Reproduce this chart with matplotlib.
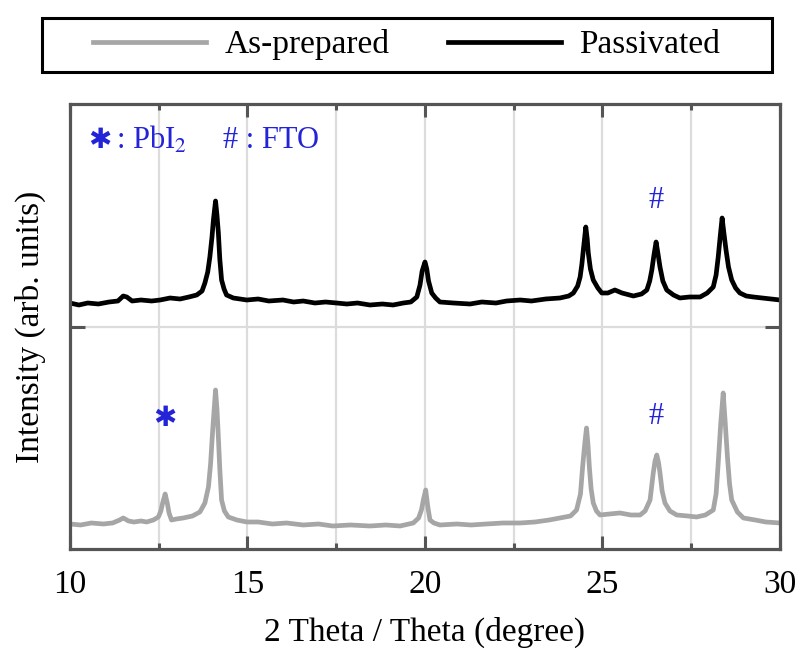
import matplotlib
matplotlib.use('Agg')
import matplotlib.pyplot as plt
from matplotlib.patches import Rectangle

plt.rcParams['font.family'] = ['Liberation Serif', 'DejaVu Serif']
plt.rcParams['mathtext.fontset'] = 'stix'

# passivated pattern (arb. units, before offset)
pass_2theta = [10.00, 10.25, 10.50, 10.80, 11.10, 11.35, 11.50, 11.60, 11.75, 12.00,
               12.30, 12.54, 12.82, 13.10, 13.35, 13.57, 13.72, 13.80, 13.88, 13.94,
               14.00, 14.04, 14.10, 14.14, 14.18, 14.22, 14.27, 14.34, 14.41, 14.60,
               14.98, 15.30, 15.60, 16.00, 16.30, 16.57, 16.90, 17.20, 17.51, 17.80,
               18.10, 18.45, 18.80, 19.10, 19.39, 19.60, 19.77, 19.86, 19.92, 20.00,
               20.05, 20.10, 20.19, 20.30, 20.42, 20.80, 21.27, 21.60, 22.00, 22.30,
               22.68, 23.00, 23.40, 23.80, 24.05, 24.18, 24.30, 24.37, 24.42, 24.46,
               24.53, 24.57, 24.60, 24.66, 24.74, 24.87, 24.98, 25.15, 25.35, 25.55,
               25.87, 26.10, 26.25, 26.33, 26.39, 26.45, 26.51, 26.56, 26.62, 26.70,
               26.81, 27.00, 27.18, 27.45, 27.75, 27.95, 28.12, 28.20, 28.26, 28.32,
               28.37, 28.42, 28.48, 28.55, 28.64, 28.75, 28.87, 29.05, 29.25, 29.50,
               29.75, 30.00]
pass_int = [24, 22, 24, 23, 25, 26, 31, 30, 26, 27,
            26, 27, 29, 28, 30, 32, 36, 44, 55, 70,
            90, 107, 126, 112, 94, 68, 47, 38, 32, 29,
            27, 28, 26, 27, 25, 26, 24, 25, 24, 23,
            24, 22, 23, 22, 24, 25, 30, 42, 56, 65,
            58, 46, 34, 29, 25, 24, 23, 25, 24, 26,
            27, 26, 28, 29, 31, 34, 41, 50, 63, 77,
            100, 88, 74, 58, 47, 39, 34, 34, 37, 34,
            31, 33, 37, 46, 57, 72, 85, 74, 60, 46,
            37, 32, 29, 30, 30, 34, 40, 52, 70, 92,
            109, 94, 77, 60, 47, 39, 34, 31, 30, 29,
            28, 27]

# as-prepared pattern
asp_2theta = [10.00, 10.30, 10.60, 10.94, 11.20, 11.40, 11.50, 11.65, 11.80, 12.00,
              12.16, 12.35, 12.49, 12.56, 12.61, 12.68, 12.74, 12.79, 12.86, 13.00,
              13.19, 13.45, 13.66, 13.80, 13.90, 13.96, 14.02, 14.10, 14.14, 14.17,
              14.22, 14.27, 14.35, 14.46, 14.70, 14.98, 15.30, 15.70, 16.10, 16.57,
              17.00, 17.40, 17.90, 18.45, 18.90, 19.30, 19.67, 19.82, 19.90, 19.96,
              20.02, 20.08, 20.14, 20.25, 20.42, 20.90, 21.30, 21.73, 22.20, 22.68,
              23.10, 23.50, 23.80, 24.10, 24.27, 24.38, 24.44, 24.50, 24.55, 24.59,
              24.63, 24.68, 24.74, 24.83, 24.93, 25.20, 25.49, 25.80, 26.06, 26.20,
              26.34, 26.43, 26.48, 26.53, 26.58, 26.62, 26.68, 26.76, 26.90, 27.09,
              27.40, 27.65, 27.90, 28.12, 28.20, 28.26, 28.33, 28.40, 28.46, 28.52,
              28.58, 28.64, 28.80, 28.97, 29.30, 29.60, 30.00]
asp_int = [25, 24, 26, 25, 26, 29, 31, 28, 27, 28,
           27, 29, 32, 38, 46, 55, 46, 36, 29, 30,
           31, 33, 37, 46, 62, 85, 119, 159, 140, 119,
           80, 49, 38, 32, 29, 27, 27, 25, 26, 24,
           25, 23, 24, 23, 24, 23, 26, 31, 39, 50,
           59, 42, 29, 26, 24, 25, 24, 25, 26, 26,
           27, 29, 31, 33, 39, 55, 82, 105, 121, 105,
           82, 60, 46, 38, 34, 35, 36, 34, 34, 38,
           49, 76, 88, 94, 86, 76, 58, 46, 38, 34,
           33, 32, 34, 39, 55, 86, 125, 156, 125, 92,
           65, 49, 37, 31, 29, 27, 26]

offset = 222
y_max = 445

fig = plt.figure(figsize=(7.99, 6.48), dpi=100)
ax = fig.add_axes([0.0876, 0.1528, 0.8886, 0.6867])

ax.plot(asp_2theta, asp_int, color='#a6a6a6', lw=3.4, label='As-prepared')
ax.plot(pass_2theta, [v + offset for v in pass_int], color='black', lw=3.4,
        label='Passivated')

ax.set_xlim(10, 30)
ax.set_ylim(0, y_max)
ax.set_xticks([10, 15, 20, 25, 30])
ax.set_xticks([12.5, 17.5, 22.5, 27.5], minor=True)
ax.set_yticks([offset])
ax.set_yticklabels([])
for xv in [12.5, 15, 17.5, 20, 22.5, 25, 27.5]:
    ax.axvline(xv, color='#dcdcdc', lw=1.6, zorder=0)
ax.axhline(offset, color='#dcdcdc', lw=1.6, zorder=0)

ax.tick_params(axis='x', which='major', direction='in', length=9.5, width=2.2,
               color='#555555', top=True, labelsize=24, pad=15)
ax.tick_params(axis='x', which='minor', direction='in', length=4.5, width=2.2,
               color='#555555', top=True)
ax.tick_params(axis='y', direction='in', length=11, width=2.2, color='#555555',
               right=True)
for sp in ax.spines.values():
    sp.set_color('#555555')
    sp.set_linewidth(2.3)

ax.set_xlabel('2 Theta / Theta (degree)', fontsize=24, labelpad=12)
ax.set_ylabel('Intensity (arb. units)', fontsize=24, labelpad=14)

blue = '#2323d8'
ax.text(10.5, 409, '\u2731', family='DejaVu Sans', color=blue, fontsize=20,
        va='center', ha='left')
ax.text(11.3, 409, r': PbI$_2$', color=blue, fontsize=22, va='center', ha='left')
ax.text(14.3, 409, '# : FTO', color=blue, fontsize=22, va='center', ha='left')
ax.text(12.68, 131, '\u2731', family='DejaVu Sans', color=blue, fontsize=20,
        va='center', ha='center')
ax.text(26.5, 349, '#', color=blue, fontsize=22, va='center', ha='center')
ax.text(26.5, 132, '#', color=blue, fontsize=22, va='center', ha='center')

# legend in a box above the axes
fig.add_artist(Rectangle((0.0526, 0.889), 0.9136, 0.083, transform=fig.transFigure,
                         fill=False, edgecolor='black', lw=2.2))
fig.legend(loc='center', bbox_to_anchor=(0.509, 0.9306), ncol=2, frameon=False,
           fontsize=24, handlelength=3.4, columnspacing=1.75, handletextpad=0.55)

fig.savefig('out.png', dpi=100)
